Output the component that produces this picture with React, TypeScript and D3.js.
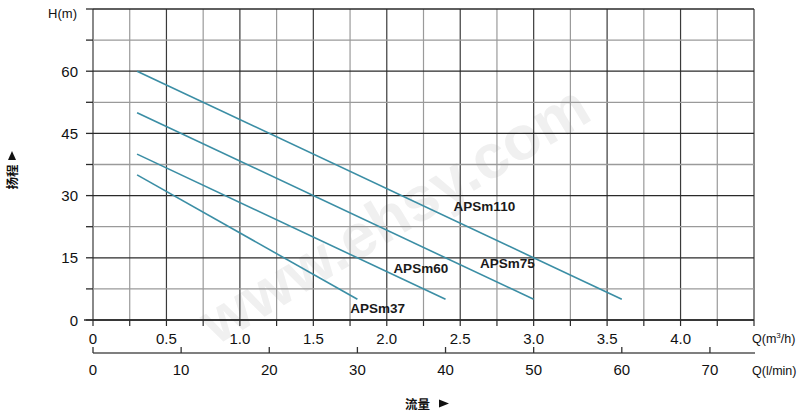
import React from "react";
import * as d3 from "d3";

const W = 799;
const H = 414;

const seriesNames = ["APSm110", "APSm75", "APSm60", "APSm37"];
const seriesQ = [
  [0.3, 3.6],
  [0.3, 3.0],
  [0.3, 2.4],
  [0.3, 1.8],
];
const seriesH = [
  [60, 5],
  [50, 5],
  [40, 5],
  [35, 5],
];
const labelPos = [
  [2.455, 26.4],
  [2.635, 12.6],
  [2.045, 11.4],
  [1.752, 1.8],
];
const qTicks = [0, 0.5, 1.0, 1.5, 2.0, 2.5, 3.0, 3.5, 4.0];
const lminTicks = [0, 10, 20, 30, 40, 50, 60, 70];
const hTicks = [0, 15, 30, 45, 60];

export default function App() {
  const x = d3.scaleLinear().domain([0, 4.5]).range([93, 754]);
  const y = d3.scaleLinear().domain([0, 75]).range([320, 9]);
  const xl = d3.scaleLinear().domain([0, 75]).range([93, 754]);
  const line = d3
    .line<[number, number]>()
    .x((d) => x(d[0]))
    .y((d) => y(d[1]));

  const vGrid = d3.range(0, 4.5001, 0.25);
  const hGrid = d3.range(0, 75.001, 7.5);
  const font = "'Liberation Sans', Arial, sans-serif";
  const cjk = "'Noto Sans CJK SC', sans-serif";
  const lineColor = "#3b8ea5";

  return (
    <svg
      width={W}
      height={H}
      style={{ position: "absolute", left: 0, top: 0, background: "#fff" }}
      fontFamily={font}
    >
      {/* watermark */}
      <text
        x={395}
        y={235}
        transform="rotate(-31 395 215)"
        textAnchor="middle"
        fontSize={62}
        fill="#f0f0f0"
        fontWeight="bold"
      >
        www.ehsy.com
      </text>

      {/* grid */}
      {vGrid.map((v, i) => (
        <line
          key={"v" + i}
          x1={x(v)}
          x2={x(v)}
          y1={y(75)}
          y2={y(0)}
          stroke={i % 2 === 0 ? "#3a3a3a" : "#9a9a9a"}
          strokeWidth={1.2}
        />
      ))}
      {hGrid.map((v, i) => (
        <line
          key={"h" + i}
          x1={x(0)}
          x2={x(4.5)}
          y1={y(v)}
          y2={y(v)}
          stroke={i % 2 === 0 ? "#2a2a2a" : "#9a9a9a"}
          strokeWidth={1.3}
        />
      ))}
      {/* y ticks */}
      {hGrid.map((v, i) => (
        <line
          key={"yt" + i}
          x1={86}
          x2={x(0)}
          y1={y(v)}
          y2={y(v)}
          stroke="#2a2a2a"
          strokeWidth={1.3}
        />
      ))}
      {hTicks.map((v) => (
        <text key={"yl" + v} x={78} y={y(v) + 5.5} textAnchor="end" fontSize={15} fill="#111">
          {v}
        </text>
      ))}
      <text x={77} y={18} textAnchor="end" fontSize={13} fill="#111">
        H(m)
      </text>

      {/* bottom axis Q m3/h */}
      <line x1={84} x2={x(4.5)} y1={y(0)} y2={y(0)} stroke="#2a2a2a" strokeWidth={1.3} />
      {vGrid.map((v, i) => (
        <line
          key={"xt" + i}
          x1={x(v)}
          x2={x(v)}
          y1={y(0)}
          y2={326}
          stroke="#2a2a2a"
          strokeWidth={1.2}
        />
      ))}
      {qTicks.map((v) => (
        <text key={"xl" + v} x={x(v)} y={344} textAnchor="middle" fontSize={15} fill="#111">
          {v === 0 ? "0" : v.toFixed(1)}
        </text>
      ))}
      <text x={752} y={343} fontSize={12.5} fill="#111">
        Q(m<tspan dy={-5} fontSize={8}>3</tspan>
        <tspan dy={5}>/h)</tspan>
      </text>

      {/* second axis l/min */}
      <line x1={x(0)} x2={755} y1={353} y2={353} stroke="#555" strokeWidth={1.3} />
      {lminTicks.map((v) => (
        <line
          key={"lt" + v}
          x1={xl(v)}
          x2={xl(v)}
          y1={347}
          y2={353}
          stroke="#333"
          strokeWidth={1.3}
        />
      ))}
      {lminTicks.map((v) => (
        <text key={"ll" + v} x={xl(v)} y={375} textAnchor="middle" fontSize={15} fill="#111">
          {v}
        </text>
      ))}
      <text x={752} y={375} fontSize={12.5} fill="#111">
        Q(l/min)
      </text>

      {/* axis titles */}
      <text x={405} y={409} fontSize={12.5} fontWeight="bold" fill="#111" fontFamily={cjk}>
        流量
      </text>
      <path d="M439,399.5 L449,403.5 L439,407.5 Z" fill="#111" />
      <text
        x={0}
        y={0}
        transform="translate(17 177) rotate(-90)"
        textAnchor="middle"
        fontSize={12.5}
        fontWeight="bold"
        fill="#111"
        fontFamily={cjk}
      >
        扬程
      </text>
      <path d="M8,160 L12,151 L16,160 Z" fill="#111" />

      {/* curves */}
      {seriesNames.map((name, i) => {
        const pts: [number, number][] = seriesQ[i].map((q, j) => [q, seriesH[i][j]]);
        return (
          <path
            key={name}
            d={line(pts) || ""}
            fill="none"
            stroke={lineColor}
            strokeWidth={1.6}
          />
        );
      })}
      {seriesNames.map((name, i) => (
        <text
          key={"lab" + name}
          x={x(labelPos[i][0])}
          y={y(labelPos[i][1])}
          fontSize={13.5}
          fontWeight="bold"
          fill="#1a1a1a"
        >
          {name}
        </text>
      ))}
    </svg>
  );
}
